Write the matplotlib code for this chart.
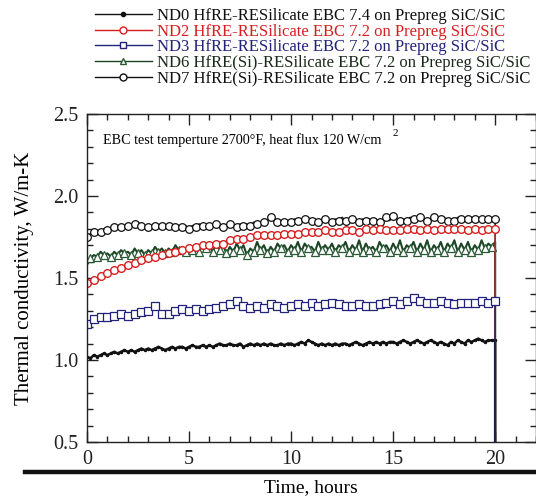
import numpy as np
import matplotlib
matplotlib.use("Agg")
import matplotlib.pyplot as plt
from matplotlib.lines import Line2D
from matplotlib.ticker import MultipleLocator

plt.rcParams['font.family'] = ['Liberation Serif', 'DejaVu Serif']

# time grid: 6 samples per hour, 0..20 h
time_h = np.arange(121) / 6.0

nd0 = [1.02, 1.01, 1.03, 1.02, 1.03, 1.04,
       1.03, 1.04, 1.05, 1.04, 1.05, 1.06,
       1.05, 1.06, 1.05, 1.06, 1.07, 1.06,
       1.07, 1.06, 1.07, 1.08, 1.07, 1.06,
       1.07, 1.08, 1.07, 1.08, 1.08, 1.07,
       1.08, 1.09, 1.08, 1.08, 1.09, 1.08,
       1.09, 1.08, 1.09, 1.10, 1.09, 1.09,
       1.10, 1.09, 1.09, 1.10, 1.08, 1.09,
       1.10, 1.09, 1.10, 1.09, 1.10, 1.09,
       1.10, 1.09, 1.09, 1.10, 1.09, 1.10,
       1.10, 1.09, 1.10, 1.11, 1.10, 1.12,
       1.11, 1.10, 1.09, 1.10, 1.09, 1.10,
       1.09, 1.10, 1.09, 1.10, 1.10, 1.09,
       1.10, 1.11, 1.10, 1.09, 1.10, 1.11,
       1.10, 1.11, 1.10, 1.11, 1.10, 1.11,
       1.11, 1.10, 1.11, 1.12, 1.11, 1.10,
       1.11, 1.12, 1.11, 1.10, 1.11, 1.12,
       1.11, 1.10, 1.11, 1.10, 1.09, 1.11,
       1.10, 1.12, 1.11, 1.10, 1.12, 1.11,
       1.12, 1.13, 1.12, 1.11, 1.12, 1.12,
       1.12]

nd2 = [1.47, 1.48, 1.49, 1.50, 1.51, 1.52,
       1.53, 1.54, 1.55, 1.55, 1.56, 1.57,
       1.58, 1.59, 1.59, 1.60, 1.61, 1.61,
       1.62, 1.62, 1.63, 1.64, 1.64, 1.65,
       1.65, 1.66, 1.66, 1.67, 1.67, 1.68,
       1.68, 1.68, 1.69, 1.69, 1.70, 1.70,
       1.70, 1.71, 1.71, 1.72, 1.71, 1.72,
       1.73, 1.73, 1.74, 1.74, 1.74, 1.75,
       1.75, 1.75, 1.76, 1.75, 1.76, 1.76,
       1.76, 1.77, 1.76, 1.77, 1.77, 1.77,
       1.77, 1.78, 1.77, 1.77, 1.78, 1.78,
       1.78, 1.77, 1.78, 1.78, 1.79, 1.78,
       1.78, 1.79, 1.78, 1.79, 1.79, 1.78,
       1.79, 1.79, 1.78, 1.79, 1.80, 1.79,
       1.79, 1.79, 1.80, 1.79, 1.79, 1.80,
       1.79, 1.80, 1.79, 1.80, 1.80, 1.79,
       1.80, 1.80, 1.79, 1.80, 1.80, 1.80,
       1.79, 1.80, 1.80, 1.79, 1.80, 1.80,
       1.80, 1.79, 1.80, 1.80, 1.79, 1.80,
       1.80, 1.80, 1.79, 1.80, 1.80, 1.79,
       1.80]

nd3 = [1.22, 1.24, 1.25, 1.25, 1.26, 1.26,
       1.26, 1.27, 1.27, 1.27, 1.28, 1.28,
       1.27, 1.28, 1.28, 1.29, 1.29, 1.30,
       1.30, 1.31, 1.33, 1.31, 1.28, 1.28,
       1.28, 1.29, 1.30, 1.30, 1.31, 1.31,
       1.30, 1.30, 1.31, 1.31, 1.30, 1.31,
       1.31, 1.31, 1.32, 1.32, 1.33, 1.33,
       1.34, 1.35, 1.36, 1.35, 1.33, 1.33,
       1.32, 1.32, 1.33, 1.33, 1.32, 1.33,
       1.34, 1.34, 1.33, 1.33, 1.32, 1.32,
       1.33, 1.33, 1.34, 1.34, 1.33, 1.33,
       1.35, 1.34, 1.33, 1.33, 1.34, 1.35,
       1.35, 1.34, 1.34, 1.34, 1.33, 1.33,
       1.33, 1.33, 1.34, 1.33, 1.33, 1.34,
       1.33, 1.33, 1.34, 1.34, 1.35, 1.36,
       1.36, 1.35, 1.34, 1.35, 1.36, 1.37,
       1.38, 1.37, 1.36, 1.35, 1.35, 1.35,
       1.35, 1.35, 1.36, 1.35, 1.35, 1.35,
       1.34, 1.35, 1.35, 1.35, 1.35, 1.34,
       1.35, 1.35, 1.36, 1.35, 1.35, 1.34,
       1.36]

nd6 = [1.58, 1.62, 1.64, 1.63, 1.66, 1.64,
       1.65, 1.63, 1.66, 1.64, 1.67, 1.65,
       1.66, 1.64, 1.68, 1.65, 1.67, 1.64,
       1.67, 1.65, 1.69, 1.66, 1.68, 1.65,
       1.68, 1.66, 1.70, 1.67, 1.69, 1.66,
       1.70, 1.67, 1.69, 1.66, 1.71, 1.68,
       1.69, 1.66, 1.72, 1.67, 1.70, 1.65,
       1.69, 1.66, 1.71, 1.67, 1.70, 1.64,
       1.68, 1.66, 1.72, 1.67, 1.70, 1.65,
       1.69, 1.66, 1.71, 1.68, 1.70, 1.66,
       1.70, 1.67, 1.72, 1.66, 1.71, 1.68,
       1.69, 1.66, 1.72, 1.67, 1.70, 1.67,
       1.71, 1.66, 1.70, 1.68, 1.72, 1.66,
       1.70, 1.67, 1.73, 1.66, 1.71, 1.67,
       1.69, 1.66, 1.72, 1.68, 1.70, 1.66,
       1.71, 1.67, 1.73, 1.66, 1.70, 1.68,
       1.72, 1.66, 1.71, 1.67, 1.73, 1.66,
       1.70, 1.67, 1.72, 1.66, 1.71, 1.68,
       1.73, 1.66, 1.71, 1.67, 1.72, 1.66,
       1.70, 1.67, 1.73, 1.68, 1.71, 1.69,
       1.72]

nd7 = [1.75, 1.77, 1.78, 1.79, 1.78, 1.80,
       1.79, 1.80, 1.81, 1.80, 1.81, 1.80,
       1.82, 1.81, 1.83, 1.84, 1.82, 1.80,
       1.81, 1.80, 1.82, 1.81, 1.82, 1.81,
       1.82, 1.80, 1.81, 1.82, 1.81, 1.82,
       1.80, 1.82, 1.81, 1.83, 1.82, 1.81,
       1.82, 1.81, 1.83, 1.82, 1.81, 1.82,
       1.83, 1.82, 1.81, 1.83, 1.82, 1.83,
       1.82, 1.84, 1.83, 1.82, 1.84, 1.85,
       1.87, 1.85, 1.84, 1.85, 1.84, 1.85,
       1.84, 1.86, 1.85, 1.84, 1.86, 1.87,
       1.85, 1.86, 1.84, 1.85, 1.86, 1.85,
       1.84, 1.86, 1.85, 1.87, 1.85, 1.84,
       1.86, 1.85, 1.84, 1.86, 1.85, 1.86,
       1.85, 1.86, 1.84, 1.85, 1.87, 1.85,
       1.88, 1.86, 1.85, 1.86, 1.85, 1.87,
       1.86, 1.85, 1.87, 1.86, 1.85, 1.86,
       1.87, 1.85, 1.86, 1.87, 1.85, 1.86,
       1.85, 1.87, 1.86, 1.85, 1.86, 1.87,
       1.86, 1.85, 1.86, 1.87, 1.86, 1.86,
       1.86]

end_time = 20.0
end_value = 0.40  # signal drops off-scale when test stops

labels = ["ND0 HfRE-RESilicate EBC 7.4 on Prepreg SiC/SiC",
          "ND2 HfRE-RESilicate EBC 7.2 on Prepreg SiC/SiC",
          "ND3 HfRE-RESilicate EBC 7.2 on Prepreg SiC/SiC",
          "ND6 HfRE(Si)-RESilicate EBC 7.2 on Prepreg SiC/SiC",
          "ND7 HfRE(Si)-RESilicate EBC 7.2 on Prepreg SiC/SiC"]

fig = plt.figure(figsize=(5.36, 4.98), dpi=100)
ax = fig.add_axes([87/536, 1-442/498, 1-87/536, (442-114)/498])

def ext(v):
    return list(time_h) + [end_time], list(v) + [end_value]

x, y = ext(nd7)
h7, = ax.plot(x, y, color='#222222', lw=1.1, marker='o', ms=5.5, mfc='white',
              mec='#111111', mew=0.9, markevery=list(range(0, 121, 2)))
x, y = ext(nd6)
h6, = ax.plot(x, y, color='#1c4526', lw=1.5, marker='^', ms=5.5, mfc='white',
              mec='#2a5a35', mew=0.9, markevery=list(range(1, 121, 2)))
x, y = ext(nd2)
h2, = ax.plot(x, y, color='#d62020', lw=1.0, marker='o', ms=5.5, mfc='white',
              mec='#d62020', mew=1.0, markevery=list(range(0, 121, 2)))
x, y = ext(nd0)
h0, = ax.plot(x, y, color='#111111', lw=1.8, marker='o', ms=1.5, mfc='#111111',
              mec='#111111', markevery=list(range(0, 121, 1)))
x, y = ext(nd3)
h3, = ax.plot(x, y, color='#22227a', lw=0.9, marker='s', ms=5.5, mfc='white',
              mec='#22227a', mew=0.9, markevery=list(range(0, 121, 2)))

ax.set_xlim(0, 22)
ax.set_ylim(0.5, 2.5)
ax.xaxis.set_major_locator(MultipleLocator(5))
ax.xaxis.set_minor_locator(MultipleLocator(1))
ax.yaxis.set_major_locator(MultipleLocator(0.5))
ax.yaxis.set_minor_locator(MultipleLocator(0.1))
ax.xaxis.set_major_formatter(plt.FuncFormatter(lambda v, p: f"{v:.0f}"))
ax.yaxis.set_major_formatter(plt.FuncFormatter(lambda v, p: f"{v:.1f}"))
ax.tick_params(which='both', direction='in', top=True, right=True,
               labelsize=14.5, width=1.0, colors='#222222')
ax.tick_params(which='major', length=8, pad=6)
ax.tick_params(which='minor', length=4)
for s in ax.spines.values():
    s.set_linewidth(1.0)
    s.set_color('#222222')

ax.set_ylabel("Thermal conductivity, W/m-K", fontsize=15)
ax.yaxis.set_label_coords(-0.118, 0.5)
fig.text(311/536, 1-488/498, "Time, hours", fontsize=14, ha='center', va='center')

ax.text(0.0356, 0.921, "EBC test temperture 2700\u00b0F, heat flux 120 W/cm", transform=ax.transAxes,
        fontsize=10.2, ha='left', va='center')
ax.text(0.681, 0.942, "2", transform=ax.transAxes, fontsize=8, ha='left', va='center')

# page rule below axis
fig.add_artist(Line2D([25/536, 1.0], [1-472/498, 1-472/498], color='#111111', lw=3.2))

leg_handles = [
    Line2D([], [], color='#111111', lw=1.0, marker='o', ms=3, mfc='#111111'),
    Line2D([], [], color='#d62020', lw=1.0, marker='o', ms=5, mfc='white', mec='#d62020'),
    Line2D([], [], color='#22227a', lw=1.0, marker='s', ms=5, mfc='white', mec='#22227a'),
    Line2D([], [], color='#1c4526', lw=1.0, marker='^', ms=5, mfc='white', mec='#2a5a35'),
    Line2D([], [], color='#111111', lw=1.0, marker='o', ms=5, mfc='white', mec='#111111'),
]
leg = fig.legend(leg_handles, labels, loc='upper left', bbox_to_anchor=(95/536, 1-8/498),
                 frameon=False, fontsize=12, handlelength=3.4, handletextpad=0.3,
                 labelspacing=-0.02, borderaxespad=0, borderpad=0)
text_colors = ['#111111', '#d62020', '#22227a', '#1a2a1a', '#111111']
for t, c in zip(leg.get_texts(), text_colors):
    t.set_color(c)

fig.savefig("out.png", dpi=100)
